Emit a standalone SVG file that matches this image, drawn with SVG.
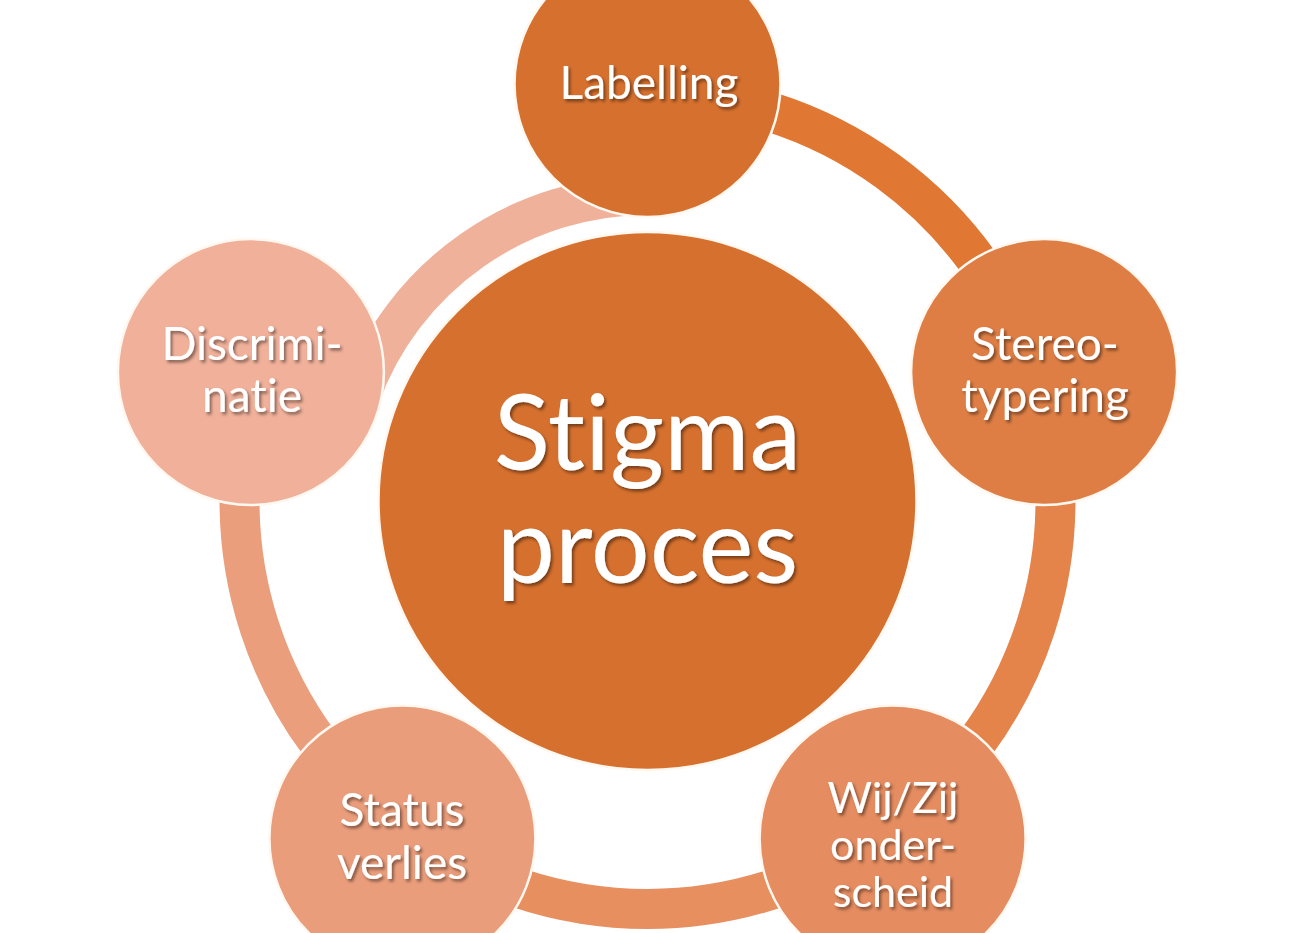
<svg xmlns="http://www.w3.org/2000/svg" width="1294" height="933" viewBox="0 0 1294 933">
  <defs>
    <filter id="ts" x="-10%" y="-20%" width="120%" height="140%">
      <feDropShadow dx="2" dy="2.5" stdDeviation="1.5" flood-color="#000" flood-opacity="0.45"/>
    </filter>
  </defs>
  <style>
    .arc { fill: none; stroke-width: 40; stroke-linecap: butt; }
    .node { stroke: #FFF8F0; stroke-width: 2.5; }
    .lbl { font-family: Lato, "Open Sans", sans-serif; fill: #FFFFFF; text-anchor: middle; filter: url(#ts); font-variant-ligatures: none; font-feature-settings: "liga" 0, "clig" 0; }
  </style>
  <rect width="1294" height="933" fill="#FFFFFF"/>
  <g id="connectors">
    <path class="arc" stroke="#E07733" d="M647.5,93 A408,408 0 0 1 1035.5,374.9"/>
    <path class="arc" stroke="#E4834A" d="M1035.5,374.9 A408,408 0 0 1 887.3,831.1"/>
    <path class="arc" stroke="#E88F60" d="M887.3,831.1 A408,408 0 0 1 407.7,831.1"/>
    <path class="arc" stroke="#EB9E7C" d="M407.7,831.1 A408,408 0 0 1 259.5,374.9"/>
    <path class="arc" stroke="#F0B19A" d="M360,396.3 A306,306 0 0 1 647.5,195"/>
  </g>
  <g id="center">
    <circle class="node" cx="647.5" cy="501" r="269" fill="#D6702E"/>
    <text class="lbl" x="647.5" y="470" font-size="104">Stigma</text>
    <text class="lbl" x="647.5" y="583" font-size="104">proces</text>
  </g>
  <g id="labelling">
    <circle class="node" cx="647.5" cy="84" r="133" fill="#D6702E"/>
    <text class="lbl" x="649" y="99" font-size="46">Labelling</text>
  </g>
  <g id="stereotypering">
    <circle class="node" cx="1044.1" cy="372.1" r="133" fill="#DE7E45"/>
    <text class="lbl" x="1045" y="360" font-size="46">Stereo-</text>
    <text class="lbl" x="1045" y="412" font-size="46">typering</text>
  </g>
  <g id="wijzij">
    <circle class="node" cx="892.6" cy="838.4" r="133" fill="#E58C60"/>
    <text class="lbl" x="893" y="813" font-size="43">Wij/Zij</text>
    <text class="lbl" x="893" y="860" font-size="43">onder-</text>
    <text class="lbl" x="893" y="907" font-size="43">scheid</text>
  </g>
  <g id="statusverlies">
    <circle class="node" cx="402.4" cy="838.4" r="133" fill="#EA9D7B"/>
    <text class="lbl" x="402" y="826" font-size="46">Status</text>
    <text class="lbl" x="402" y="879" font-size="46">verlies</text>
  </g>
  <g id="discriminatie">
    <circle class="node" cx="250.9" cy="372.1" r="133" fill="#F0B09A"/>
    <text class="lbl" x="252" y="360" font-size="46">Discrimi-</text>
    <text class="lbl" x="252" y="412" font-size="46">natie</text>
  </g>
</svg>
